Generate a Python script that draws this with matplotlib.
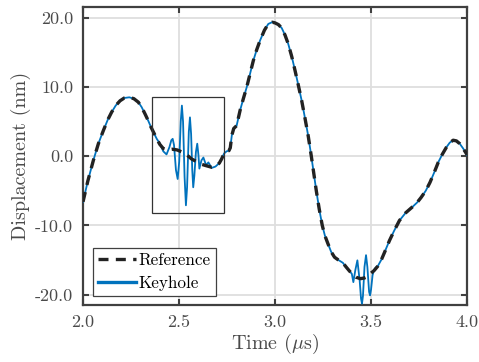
import matplotlib
matplotlib.use("Agg")
import matplotlib.pyplot as plt
import numpy as np
from matplotlib.patches import Rectangle
from matplotlib.ticker import FormatStrFormatter

# reference displacement (time in us, displacement in nm)
ref_t = [2.000, 2.025, 2.054, 2.080, 2.106, 2.128, 2.149, 2.170, 2.193, 2.215,
         2.241, 2.265, 2.288, 2.305, 2.323, 2.340, 2.354, 2.370, 2.384, 2.400,
         2.418, 2.440, 2.465, 2.490, 2.515, 2.540, 2.565, 2.592, 2.620, 2.644,
         2.670, 2.690, 2.710, 2.722, 2.735, 2.748, 2.760, 2.767, 2.775, 2.785,
         2.800, 2.818, 2.835, 2.853, 2.870, 2.887, 2.905, 2.922, 2.945, 2.965,
         2.985, 3.000, 3.018, 3.035, 3.052, 3.069, 3.087, 3.104, 3.121, 3.139,
         3.156, 3.173, 3.189, 3.202, 3.215, 3.230, 3.246, 3.260, 3.275, 3.292,
         3.310, 3.330, 3.353, 3.370, 3.388, 3.405, 3.423, 3.445, 3.465, 3.483,
         3.500, 3.517, 3.535, 3.555, 3.575, 3.596, 3.620, 3.648, 3.680, 3.717,
         3.740, 3.760, 3.785, 3.807, 3.830, 3.850, 3.872, 3.893, 3.910, 3.928,
         3.945, 3.962, 3.980, 3.997, 4.000]
ref_y = [-6.6, -3.6, -0.6, 1.8, 3.7, 5.2, 6.35, 7.3, 8.0, 8.4,
         8.5, 8.3, 7.8, 7.1, 6.1, 5.1, 4.2, 3.3, 2.5, 1.7,
         1.1, 0.9, 1.0, 0.9, 0.6, 0.2, -0.4, -0.8, -1.2, -1.4,
         -1.6, -1.5, -1.0, -0.4, 0.4, 0.7, 0.8, 1.2, 3.0, 4.0,
         4.4, 6.6, 8.3, 10.0, 11.9, 13.8, 15.4, 16.7, 18.2, 19.1,
         19.35, 19.25, 19.0, 18.5, 17.5, 16.2, 14.4, 12.4, 10.3, 8.0,
         5.5, 2.9, 0.0, -2.5, -5.0, -7.6, -10.0, -11.5, -12.6, -13.8,
         -14.6, -15.0, -15.4, -16.0, -16.6, -17.1, -17.5, -17.7, -17.6, -17.4,
         -16.9, -16.5, -15.9, -14.9, -13.6, -12.2, -10.8, -9.3, -8.2, -7.3,
         -6.7, -6.0, -5.0, -3.8, -2.3, -0.9, 0.3, 1.3, 1.95, 2.3,
         2.2, 1.8, 1.1, 0.35, 0.2]

# keyhole signal where it departs from the reference
win1_t = [2.401, 2.418, 2.435, 2.450, 2.460, 2.467, 2.474, 2.484, 2.493, 2.501,
          2.509, 2.515, 2.521, 2.529, 2.536, 2.542, 2.551, 2.557, 2.563, 2.569,
          2.574, 2.580, 2.588, 2.595, 2.601, 2.606, 2.617, 2.627, 2.641, 2.653,
          2.670]
win1_y = [1.8, 0.7, 0.25, 1.3, 2.3, 2.5, 1.6, -2.0, -3.3, -0.8,
          5.0, 7.3, 5.0, -3.0, -7.1, -4.5, 3.5, 5.6, 3.2, -2.0,
          -4.5, -2.8, 0.6, 1.8, 0.2, -1.8, -0.6, -0.2, -1.3, -0.9,
          -1.7]
win2_t = [3.400, 3.408, 3.418, 3.429, 3.441, 3.448, 3.453, 3.458, 3.466, 3.474,
          3.481, 3.490, 3.495, 3.500, 3.508, 3.516, 3.524]
win2_y = [-17.0, -18.2, -16.5, -15.05, -18.0, -20.6, -21.3, -20.2, -16.0, -14.3,
          -16.0, -19.6, -20.1, -19.3, -17.2, -16.4, -16.1]

# zoom box around the first keyhole burst
box_t = [2.358, 2.734]
box_y = [-8.2, 8.5]

ref_t = np.array(ref_t)
ref_y = np.array(ref_y)
a = ref_t < 2.39
b = (ref_t > 2.68) & (ref_t < 3.395)
c = ref_t > 3.53
key_t = np.concatenate([ref_t[a], win1_t, ref_t[b], win2_t, ref_t[c]])
key_y = np.concatenate([ref_y[a], win1_y, ref_y[b], win2_y, ref_y[c]])

plt.rcParams['font.family'] = 'serif'
plt.rcParams['font.serif'] = ['cmr10', 'DejaVu Serif']
plt.rcParams['mathtext.fontset'] = 'cm'
plt.rcParams['axes.unicode_minus'] = False

fig = plt.figure(figsize=(4.79, 3.62), dpi=100)
ax = fig.add_axes([0.1733, 0.1575, 0.8017, 0.8223])

ax.plot(key_t, key_y, color='#0072BD', lw=1.3, label='Keyhole', zorder=3)
ax.plot(ref_t, ref_y, color='#222222', lw=2.4, ls=(0, (3.0, 2.2)),
        label='Reference', zorder=4)

ax.add_patch(Rectangle((box_t[0], box_y[0]), box_t[1] - box_t[0], box_y[1] - box_y[0],
                       fill=False, ec='#333333', lw=0.9, zorder=5))

ax.set_xlim(2.0, 4.0)
ax.set_ylim(-21.5, 21.5)
ax.set_xticks([2.0, 2.5, 3.0, 3.5, 4.0])
ax.set_yticks([-20, -10, 0, 10, 20])
ax.xaxis.set_major_formatter(FormatStrFormatter('%.1f'))
ax.yaxis.set_major_formatter(FormatStrFormatter('%.1f'))
ax.grid(True, color='#dedede', lw=1.3)
ax.set_axisbelow(True)
ax.tick_params(direction='in', top=True, right=True, length=4, width=1.5,
               color='#404040', labelcolor='#4a4a4a', labelsize=13, pad=7)
for s in ax.spines.values():
    s.set_color('#404040')
    s.set_linewidth(1.6)

ax.set_xlabel(r'Time ($\mu$s)', fontsize=14.5, color='#4a4a4a', labelpad=1)
ax.set_ylabel('Displacement (nm)', fontsize=14.5, color='#4a4a4a', labelpad=3)

h, l = ax.get_legend_handles_labels()
leg = ax.legend(h[::-1], l[::-1], loc='lower left', bbox_to_anchor=(0.025, 0.03),
                fontsize=12.3, frameon=True, fancybox=False, framealpha=1,
                edgecolor='#404040', handlelength=2.25, handletextpad=0.15,
                borderpad=0.3, labelspacing=0.42, borderaxespad=0)
leg.get_frame().set_linewidth(0.9)
leg.get_lines()[1].set_linewidth(2.4)

fig.savefig('out.png', dpi=100)
